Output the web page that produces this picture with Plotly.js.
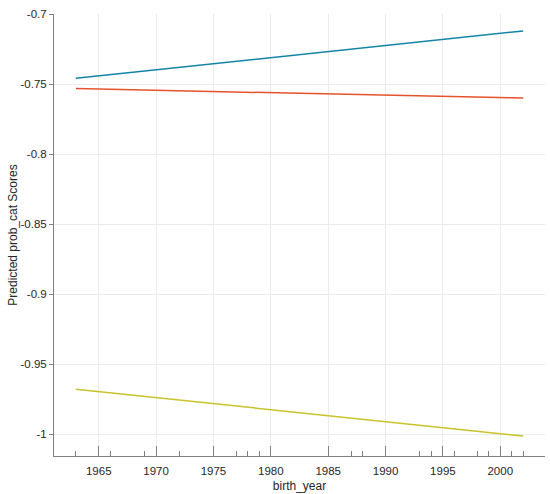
<!DOCTYPE html>
<html>
<head>
<meta charset="utf-8">
<script src="https://cdn.plot.ly/plotly-3.0.1.min.js"></script>
<style>
  html, body { margin: 0; padding: 0; background: #fff; }
  #plot { width: 550px; height: 494px; }
</style>
</head>
<body>
<div id="plot"></div>
<script>
// fitted lines (start and end of each)
const years = [1963, 2002];
const blueLine = [-0.7459, -0.7121];
const redLine = [-0.7533, -0.7600];
const yellowLine = [-0.9680, -1.0015];

// birth years that appear as rug ticks on the x axis
const rugYears = [1963, 1966, 1969, 1972, 1977, 1978, 1979, 1987, 1988,
    1993, 1994, 1996, 1998, 1999, 2001, 2002];

const xTicks = [1965, 1970, 1975, 1980, 1985, 1990, 1995, 2000];
const yTicks = [-1, -0.95, -0.9, -0.85, -0.8, -0.75, -0.7];

const lineTrace = (y, color) => ({
    x: years,
    y: y,
    type: 'scatter',
    mode: 'lines',
    line: { color: color, width: 1.5 },
    hoverinfo: 'skip',
});

const data = [
    lineTrace(blueLine, '#1384A8'),
    lineTrace(redLine, '#E5522B'),
    lineTrace(yellowLine, '#C9C22A'),
];

const layout = {
    width: 550,
    height: 494,
    margin: { l: 54, r: 5, t: 14, b: 38 },
    paper_bgcolor: '#fff',
    plot_bgcolor: '#fff',
    showlegend: false,
    font: { family: 'Arial, "Liberation Sans", sans-serif', size: 11.5, color: '#262626' },
    xaxis: {
        range: [1961.1, 2003.9],
        tickmode: 'array',
        tickvals: xTicks,
        ticks: 'inside',
        ticklen: 10,
        tickwidth: 1,
        tickcolor: '#808080',
        ticklabelstandoff: 4,
        showline: true,
        linecolor: '#808080',
        linewidth: 1,
        showgrid: true,
        gridcolor: '#ebebeb',
        zeroline: false,
        minor: {
            tickmode: 'array',
            tickvals: rugYears,
            ticks: 'inside',
            ticklen: 5,
            tickwidth: 1,
            tickcolor: '#808080',
            showgrid: false,
        },
        title: { text: 'birth_year', font: { size: 12 }, standoff: 5 },
    },
    yaxis: {
        range: [-1.0157, -0.7],
        tickmode: 'array',
        tickvals: yTicks,
        ticktext: ['-1', '-0.95', '-0.9', '-0.85', '-0.8', '-0.75', '-0.7'],
        ticks: 'outside',
        ticklen: 4,
        tickwidth: 1,
        tickcolor: '#808080',
        showline: true,
        linecolor: '#808080',
        linewidth: 1,
        showgrid: true,
        gridcolor: '#ebebeb',
        zeroline: false,
        title: { text: 'Predicted prob_cat Scores', font: { size: 12 }, standoff: 0 },
    },
};

Plotly.newPlot('plot', data, layout, { staticPlot: true, displayModeBar: false });
</script>
</body>
</html>
